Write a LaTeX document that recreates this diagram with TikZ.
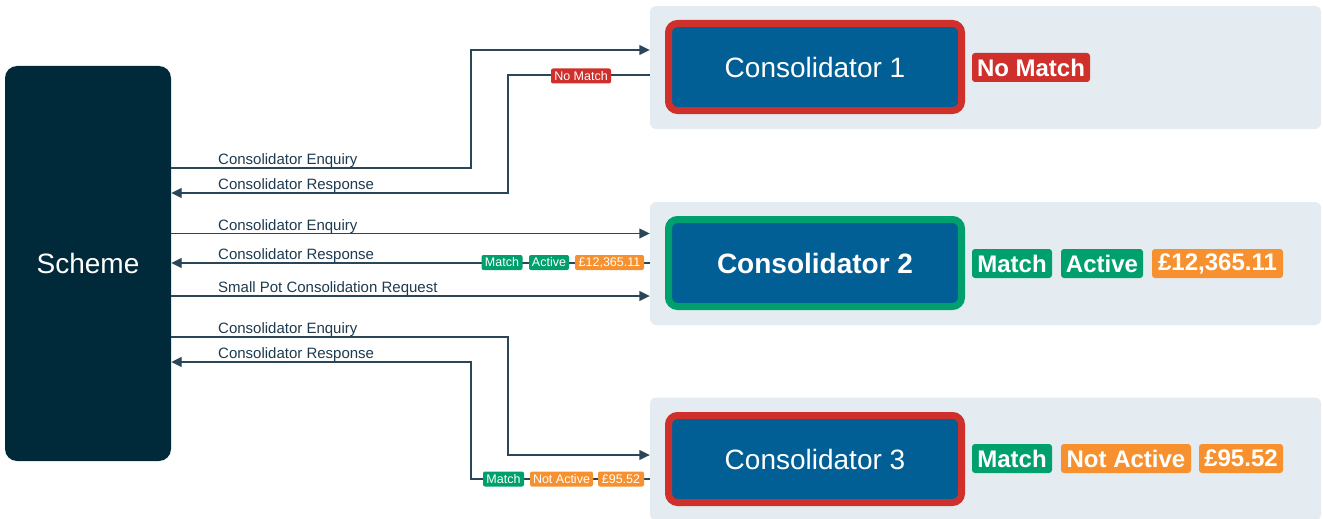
\documentclass[tikz,border=0pt]{standalone}
\usepackage{fontspec}
\setmainfont{Liberation Sans}
\usetikzlibrary{arrows.meta,calc}
\definecolor{schemeC}{HTML}{00293A}
\definecolor{panelC}{HTML}{E4ECF2}
\definecolor{boxC}{HTML}{015F95}
\definecolor{redC}{HTML}{CF302C}
\definecolor{greenC}{HTML}{00A06C}
\definecolor{orangeC}{HTML}{F7912F}
\definecolor{lineC}{HTML}{2A4658}
\definecolor{txtC}{HTML}{1E3A4E}
\tikzset{
  panel/.style={fill=panelC, rounded corners=6pt, minimum width=671pt, inner sep=0pt},
  consbox/.style={fill=boxC, line width=7pt, rounded corners=9pt, minimum width=293pt, minimum height=87pt, inner sep=0pt, text=white, font=\fontsize{28}{32}\selectfont},
  bigbadge/.style={rounded corners=3pt, minimum height=29pt, inner sep=0pt, text=white, font=\fontsize{24}{28}\selectfont\bfseries},
  smallbadge/.style={rounded corners=2pt, minimum height=15pt, inner sep=0pt, text=white, font=\fontsize{12.5}{14}\selectfont},
  flow/.style={draw=lineC, line width=1.4pt},
  arr/.style={flow, -{Triangle[length=10.5pt,width=10pt]}},
  lbl/.style={anchor=base west, inner sep=0pt, text=txtC, font=\fontsize{15}{17}\selectfont}
}
\begin{document}
\begin{tikzpicture}[x=1pt,y=-1pt]
\useasboundingbox (0,0) rectangle (1323,519);
% panels
\node[panel, minimum height=123pt] (p1) at (985.5,67.5) {};
\node[panel, minimum height=123pt] (p2) at (985.5,263.5) {};
\node[panel, minimum height=123pt] (p3) at (985.5,459) {};
% scheme
\node[fill=schemeC, rounded corners=12pt, minimum width=166pt, minimum height=395pt, inner sep=0pt, text=white, font=\fontsize{28}{32}\selectfont] (scheme) at (88,263.5) {Scheme};
% consolidators
\node[consbox, draw=redC] (c1) at (815,67) {Consolidator 1};
\node[consbox, draw=greenC, font=\fontsize{28}{32}\selectfont\bfseries] (c2) at (815,263) {Consolidator 2};
\node[consbox, draw=redC] (c3) at (815,459) {Consolidator 3};
% big badges
\node[bigbadge, fill=redC, minimum width=118pt] (b1) at (1031,67.5) {No Match};
\node[bigbadge, fill=greenC, minimum width=80pt] (b2m) at (1012,263.5) {Match};
\node[bigbadge, fill=greenC, minimum width=82pt] (b2a) at (1102,263.5) {Active};
\node[bigbadge, fill=orangeC, minimum width=131pt] (b2v) at (1217.5,263.5) {£12,365.11};
\node[bigbadge, fill=greenC, minimum width=80pt] (b3m) at (1012,458.5) {Match};
\node[bigbadge, fill=orangeC, minimum width=130pt] (b3a) at (1126,458.5) {Not Active};
\node[bigbadge, fill=orangeC, minimum width=84pt] (b3v) at (1241,458.5) {£95.52};
% connectors: consolidator 1
\draw[arr] (scheme.east |- 0,168) -| (471,50) -- (p1.west |- 0,50);
\draw[arr] (p1.west |- 0,75) -| (508,193) -- (scheme.east |- 0,193);
\node[smallbadge, fill=redC, minimum width=60pt] (s1) at (581,76) {No Match};
\node[lbl] (l1) at (218,164) {Consolidator Enquiry};
\node[lbl] (l2) at (218,189) {Consolidator Response};
% consolidator 2
\draw[arr] (scheme.east |- 0,233.5) -- (p2.west |- 0,233.5);
\draw[arr] (p2.west |- 0,263) -- (scheme.east |- 0,263);
\draw[arr] (scheme.east |- 0,296) -- (p2.west |- 0,296);
\node[smallbadge, fill=greenC, minimum width=41pt] (s2m) at (502,262.5) {Match};
\node[smallbadge, fill=greenC, minimum width=40pt] (s2a) at (549,262.5) {Active};
\node[smallbadge, fill=orangeC, minimum width=69pt] (s2v) at (609.5,262.5) {£12,365.11};
\node[lbl] (l3) at (218,230) {Consolidator Enquiry};
\node[lbl] (l4) at (218,259) {Consolidator Response};
\node[lbl] (l5) at (218,292) {Small Pot Consolidation Request};
% consolidator 3
\draw[arr] (scheme.east |- 0,337) -| (508,455) -- (p3.west |- 0,455);
\draw[arr] (p3.west |- 0,479) -| (471,362) -- (scheme.east |- 0,362);
\node[smallbadge, fill=greenC, minimum width=41pt] (s3m) at (503.5,479) {Match};
\node[smallbadge, fill=orangeC, minimum width=63pt] (s3a) at (561.5,479) {Not Active};
\node[smallbadge, fill=orangeC, minimum width=46pt] (s3v) at (621,479) {£95.52};
\node[lbl] (l6) at (218,333) {Consolidator Enquiry};
\node[lbl] (l7) at (218,358) {Consolidator Response};
\end{tikzpicture}
\end{document}
